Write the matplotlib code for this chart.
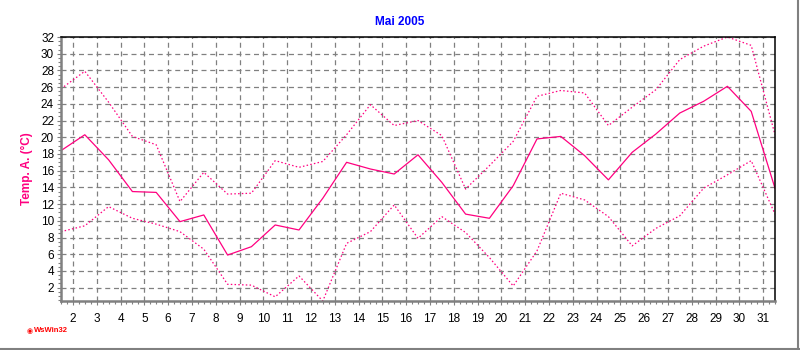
import numpy as np
import matplotlib
matplotlib.use('Agg')
from matplotlib import pyplot as plt
from matplotlib.lines import Line2D
from matplotlib.ticker import MultipleLocator

days = np.arange(1, 32)
tmean = [18.4, 20.3, 17.3, 13.5, 13.4, 9.9, 10.7, 5.9, 6.9, 9.5, 8.9, 12.7, 17.0, 16.2, 15.6, 17.9,
         14.6, 10.8, 10.3, 14.2, 19.8, 20.1, 17.8, 14.9, 18.2, 20.4, 22.9, 24.3, 26.1, 23.1, 13.9]
tmax = [25.8, 27.9, 24.2, 20.1, 19.1, 12.3, 15.8, 13.2, 13.3, 17.2, 16.4, 17.1, 20.3, 23.9, 21.4, 22.0,
        20.2, 13.8, 16.6, 19.5, 24.9, 25.6, 25.3, 21.4, 23.6, 25.7, 29.3, 30.9, 32.0, 31.0, 20.3]
tmin = [8.7, 9.4, 11.7, 10.3, 9.6, 8.7, 6.6, 2.4, 2.3, 0.9, 3.4, 0.4, 7.3, 8.7, 11.9, 7.9,
        10.5, 8.6, 5.6, 2.2, 6.4, 13.3, 12.5, 10.5, 7.0, 9.1, 10.6, 13.9, 15.5, 17.2, 10.8]
xticks = list(range(2, 32))
yticks = list(range(2, 33, 2))

plt.rcParams['font.family'] = ['Liberation Sans', 'DejaVu Sans']
pink = '#ff0080'
gray = '#808080'

fig = plt.figure(figsize=(8, 3.5), dpi=100)
ax = fig.add_axes([61/800, 1-301/350, 714/800, (301-37)/350])

x = days + 0.5
ax.plot(x, tmax, color=pink, lw=0.9, linestyle=(0, (1.2, 1.8)))
ax.plot(x, tmin, color=pink, lw=0.9, linestyle=(0, (1.2, 1.8)))
ax.plot(x, tmean, color=pink, lw=0.9)

ax.set_xlim(x[0], x[-1])
ax.set_ylim(min(tmin), max(tmax))
ax.set_xticks(xticks)
ax.set_yticks(yticks)
ax.xaxis.set_minor_locator(MultipleLocator(0.25))
ax.yaxis.set_minor_locator(MultipleLocator(0.5))
ax.grid(True, which='major', color=gray, linestyle=(0, (4, 3)), lw=0.9)
ax.set_axisbelow(True)

ax.tick_params(axis='both', which='major', direction='out', length=3, width=0.8,
               color=gray, labelsize=8.5, labelcolor='black')
ax.tick_params(axis='both', which='minor', direction='out', length=2, width=0.8, color=gray)
ax.tick_params(axis='x', which='major', pad=6)
ax.tick_params(axis='y', which='major', pad=2)

for side in ['left', 'bottom']:
    ax.spines[side].set_color(gray)
    ax.spines[side].set_linewidth(1.8)
for side in ['top', 'right']:
    ax.spines[side].set_color('black')
    ax.spines[side].set_linewidth(1.1)

ax.set_ylabel('Temp. A. (°C)', color=pink, fontsize=8.5, fontweight='bold')
ax.yaxis.set_label_coords(-0.039, 0.5)

fig.text(0.5, 1-22/350, 'Mai 2005', color='#0000ff', fontsize=8.5, fontweight='bold',
         ha='center', va='center')

fig.text(30/800, 1-331/350, '\u25c9', color='#ff0000', fontsize=5, ha='center', va='center',
         family=['DejaVu Sans'])
fig.text(33.5/800, 1-331/350, 'WsWin32', color='#ff0000', fontsize=5.5, fontweight='bold',
         ha='left', va='center')

fig.add_artist(Line2D([0, 1], [1.5/350, 1.5/350], color=gray, lw=1.5))
fig.add_artist(Line2D([797.5/800, 797.5/800], [0, 1], color=gray, lw=1.5))

fig.savefig('out.png', dpi=100)
